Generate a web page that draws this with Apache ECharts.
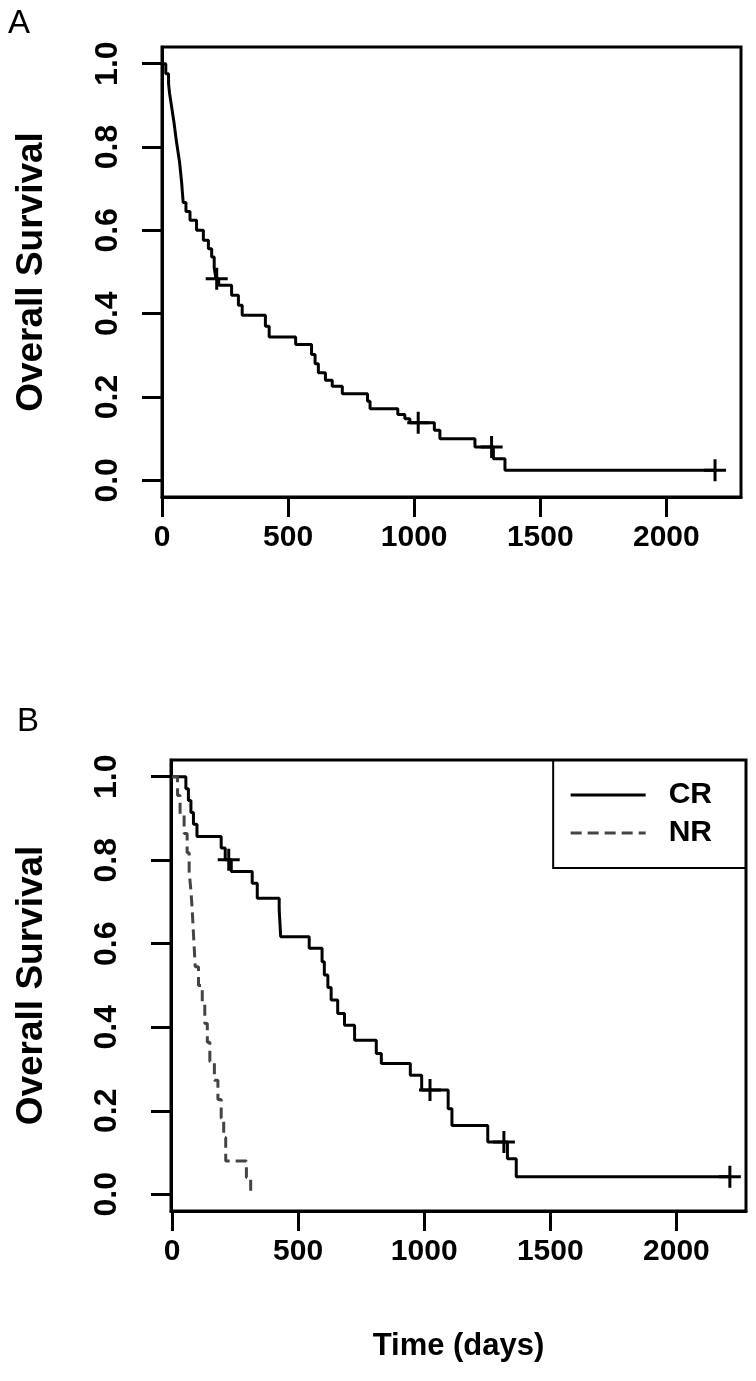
<!DOCTYPE html>
<html>
<head>
<meta charset="utf-8">
<script src="https://cdn.jsdelivr.net/npm/echarts@6/dist/echarts.min.js"></script>
<style>
html, body { margin: 0; padding: 0; background: #fff; }
#chart { width: 756px; height: 1381px; }
</style>
</head>
<body>
<div id="chart"></div>
<script>
// tick values shared by both panels
var xTicks = [0, 500, 1000, 1500, 2000];
var yTicks = [0, 0.2, 0.4, 0.6, 0.8, 1.0];

// panel A: all patients (time in days, survival after the step)
var timeA = [0, 15, 26, 30, 36, 42, 48, 53, 58, 64, 70, 74, 78, 81, 84, 95, 111, 137, 164, 184,
             197, 207, 214, 225, 276, 303, 318, 410, 425, 530, 593, 607, 620, 648, 675, 715, 815, 825, 935, 963,
             983, 1080, 1102, 1241, 1314, 1360, 2193];
var survA = [1, .976, .952, .929, .905, .881, .857, .833, .810, .786, .762, .738, .714, .690, .667, .645, .624, .600, .576, .556,
             .536, .510, .484, .468, .444, .420, .396, .370, .344, .326, .302, .280, .258, .240, .226, .208, .190, .172, .158, .148,
             .138, .120, .100, .080, .052, .024, .024];
var censorTimeA = [217, 1016, 1307, 2193];
var censorSurvA = [0.484, 0.138, 0.080, 0.024];

// panel B: CR group
var timeCR = [0, 55, 65, 75, 85, 99, 195, 211, 235, 318, 338, 425, 428, 431, 544, 595, 604, 618, 631, 657,
              684, 724, 810, 830, 945, 990, 1095, 1110, 1252, 1330, 1365, 2212];
var survCR = [1, .971, .943, .914, .886, .857, .829, .801, .773, .745, .709, .681, .649, .617, .589, .557, .525, .495, .465, .433,
              .405, .369, .337, .313, .285, .250, .205, .165, .125, .085, .042, .042];
var censorTimeCR = [225, 1023, 1316, 2212];
var censorSurvCR = [0.801, 0.250, 0.125, 0.042];

// panel B: NR group
var timeNR = [0, 22, 32, 48, 60, 68, 75, 80, 84, 88, 92, 105, 120, 130, 140, 150, 168, 182, 195, 205, 213, 295, 312];
var survNR = [1, .955, .909, .864, .818, .773, .727, .682, .636, .591, .545, .500, .455, .409, .364, .318, .273, .227, .182, .136, .080, .040, 0];

var chart = echarts.init(document.getElementById('chart'));
var font = 'Liberation Sans';
var plus = 'path://M10,0 L10,20 M0,10 L20,10';

function pairs(xs, ys) {
    var res = [];
    for (var i = 0; i < xs.length; i++) {
        res.push([xs[i], ys[i]]);
    }
    return res;
}

function xAxis(idx, min, max, name, gap) {
    return {
        type: 'value', gridIndex: idx, min: min, max: max,
        name: name, nameLocation: 'middle', nameGap: gap,
        nameTextStyle: { color: '#000', fontSize: 31, fontWeight: 'bold', fontFamily: font },
        splitLine: { show: false },
        axisLine: { show: true, onZero: false, lineStyle: { color: '#000', width: 3 } },
        axisTick: { show: true, length: 20, customValues: xTicks, lineStyle: { color: '#000', width: 3 } },
        axisLabel: {
            customValues: xTicks, margin: 26, color: '#000', fontSize: 30, fontWeight: 'bold', fontFamily: font,
            formatter: function (v) { return String(v); }
        }
    };
}

function yAxis(idx, labelMargin, nameGap) {
    return {
        type: 'value', gridIndex: idx, min: -0.04, max: 1.04,
        name: 'Overall Survival', nameLocation: 'middle', nameRotate: 90, nameGap: nameGap,
        nameTextStyle: { color: '#000', fontSize: 37, fontWeight: 'bold', fontFamily: font },
        splitLine: { show: false },
        axisLine: { show: true, onZero: false, lineStyle: { color: '#000', width: 3 } },
        axisTick: { show: true, length: 20, customValues: yTicks, lineStyle: { color: '#000', width: 3 } },
        axisLabel: {
            customValues: yTicks, rotate: 90, margin: labelMargin,
            color: '#000', fontSize: 32, fontWeight: 'bold', fontFamily: font,
            formatter: function (v) { return v.toFixed(1); }
        }
    };
}

function censorSeries(name, idx, xs, ys) {
    return {
        name: name, type: 'scatter', xAxisIndex: idx, yAxisIndex: idx,
        data: pairs(xs, ys), symbol: plus, symbolSize: 22,
        itemStyle: { color: 'none', borderColor: '#000', borderWidth: 3, opacity: 1 },
        z: 3
    };
}

var option = {
    animation: false,
    backgroundColor: '#fff',
    title: [
        { text: 'A', left: 3, top: 2, textStyle: { fontSize: 33, fontWeight: 'normal', fontFamily: font, color: '#000' } },
        { text: 'B', left: 12, top: 700, textStyle: { fontSize: 33, fontWeight: 'normal', fontFamily: font, color: '#000' } }
    ],
    legend: {
        data: ['CR', 'NR'],
        orient: 'vertical',
        right: 10, top: 760,
        itemWidth: 75, itemHeight: 14, itemGap: 8,
        padding: [20, 34, 20, 16],
        borderColor: '#000', borderWidth: 2,
        itemStyle: { opacity: 0 },
        lineStyle: { width: 3 },
        textStyle: { color: '#000', fontSize: 30, fontWeight: 'bold', fontFamily: font, padding: [0, 0, 0, 18] }
    },
    grid: [
        { left: 162, top: 47, width: 579, height: 450, show: true, borderColor: '#000', borderWidth: 3 },
        { left: 171, top: 760, width: 575, height: 451, show: true, borderColor: '#000', borderWidth: 3 }
    ],
    xAxis: [
        xAxis(0, 0, 2296, '', 0),
        xAxis(1, -4, 2276, 'Time (days)', 120)
    ],
    yAxis: [
        yAxis(0, 38, 112),
        yAxis(1, 48, 121)
    ],
    series: [
        {
            name: 'All', type: 'line', xAxisIndex: 0, yAxisIndex: 0, step: 'end',
            data: pairs(timeA, survA), symbol: 'none',
            lineStyle: { color: '#000', width: 3 }
        },
        censorSeries('All censored', 0, censorTimeA, censorSurvA),
        {
            name: 'CR', type: 'line', xAxisIndex: 1, yAxisIndex: 1, step: 'end',
            data: pairs(timeCR, survCR), symbol: 'none',
            itemStyle: { color: '#000' },
            lineStyle: { color: '#000', width: 3 }
        },
        {
            name: 'NR', type: 'line', xAxisIndex: 1, yAxisIndex: 1, step: 'end',
            data: pairs(timeNR, survNR), symbol: 'none',
            itemStyle: { color: '#444' },
            lineStyle: { color: '#444', width: 3, type: [11, 6] }
        },
        censorSeries('CR censored', 1, censorTimeCR, censorSurvCR)
    ]
};

chart.setOption(option);
</script>
</body>
</html>
